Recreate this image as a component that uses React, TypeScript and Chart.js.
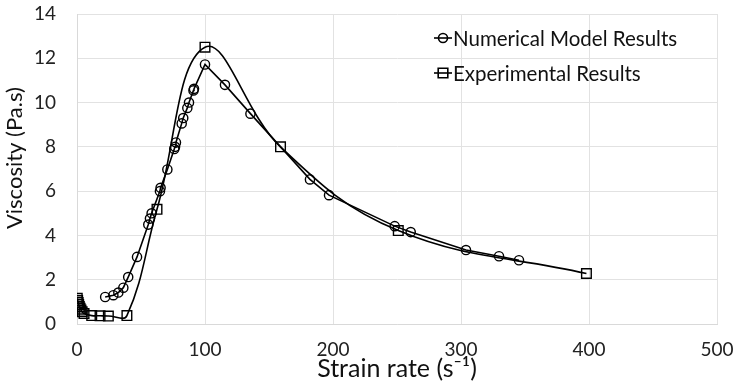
import React, { useEffect, useRef } from "react";
import { Chart, registerables } from "chart.js";

Chart.register(...registerables);

const numX = [22, 28.4, 32.3, 36.2, 40, 46.9, 55.7, 57, 58.3, 64.8, 65.3, 70.6, 76, 76.6, 77.3, 81.8, 83, 86.2, 87.5, 91, 91.4, 100, 115.6, 135.5, 182, 196.9, 248.2, 260.7, 303.9, 329.7, 345.3];
const numY = [1.22, 1.3, 1.42, 1.64, 2.12, 3.03, 4.49, 4.76, 5.0, 6.0, 6.15, 6.98, 7.9, 8.0, 8.2, 9.06, 9.3, 9.76, 10.0, 10.55, 10.62, 11.72, 10.8, 9.5, 6.53, 5.82, 4.42, 4.15, 3.34, 3.06, 2.88];

const expX = [0.2, 0.5, 0.9, 1.3, 1.8, 2.4, 3.1, 4.0, 5.5, 11.5, 18, 24.5, 39, 62.5, 100, 159, 251, 398];
const expY = [1.16, 1.06, 0.97, 0.88, 0.79, 0.71, 0.63, 0.55, 0.47, 0.38, 0.37, 0.36, 0.38, 5.18, 12.5, 8.0, 4.22, 2.28];

const seriesNames = ["Numerical Model Results", "Experimental Results"];
const xTicks = [0, 100, 200, 300, 400, 500];
const yTicks = [0, 2, 4, 6, 8, 10, 12, 14];

const FONT = "Lato, 'Open Sans', sans-serif";

const legendPlugin = {
  id: "customLegend",
  afterDraw(chart: any) {
    const ctx = chart.ctx;
    const x0 = 434;
    const rows = [38, 73];
    ctx.save();
    rows.forEach((y, i) => {
      ctx.strokeStyle = "#000";
      ctx.lineWidth = 1.6;
      ctx.beginPath();
      ctx.moveTo(x0, y);
      ctx.lineTo(x0 + 18, y);
      ctx.stroke();
      const cx = x0 + 9;
      ctx.beginPath();
      if (i === 0) {
        ctx.arc(cx, y, 4.5, 0, Math.PI * 2);
      } else {
        ctx.rect(cx - 4.8, y - 4.8, 9.6, 9.6);
      }
      ctx.stroke();
      ctx.fillStyle = "#111";
      ctx.font = "20.5px " + FONT;
      ctx.textBaseline = "middle";
      ctx.textAlign = "left";
      ctx.fillText(seriesNames[i], x0 + 19, y + 1);
    });
    ctx.restore();
  },
};

export default function App() {
  const ref = useRef<HTMLCanvasElement | null>(null);
  useEffect(() => {
    if (!ref.current) return;
    const chart = new Chart(ref.current, {
      type: "line",
      data: {
        datasets: [
          {
            label: seriesNames[0],
            data: numX.map((x, i) => ({ x, y: numY[i] })),
            borderColor: "#000",
            borderWidth: 1.6,
            backgroundColor: "transparent",
            pointStyle: "circle",
            pointRadius: 4.6,
            pointBorderWidth: 1.4,
            pointBorderColor: "#000",
            pointBackgroundColor: "transparent",
            tension: 0,
          },
          {
            label: seriesNames[1],
            data: expX.map((x, i) => ({ x, y: expY[i] })),
            borderColor: "#000",
            borderWidth: 1.6,
            backgroundColor: "transparent",
            pointStyle: "rect",
            pointRadius: 6.8,
            pointBorderWidth: 1.4,
            pointBorderColor: "#000",
            pointBackgroundColor: "transparent",
            tension: 0.4,
          },
        ],
      },
      options: {
        animation: false,
        responsive: true,
        maintainAspectRatio: false,
        layout: { padding: { top: 14, right: 18, left: 0, bottom: 0 } },
        plugins: { legend: { display: false }, tooltip: { enabled: false } },
        scales: {
          x: {
            type: "linear",
            min: 0,
            max: 500,
            afterBuildTicks: (s: any) => {
              s.ticks = xTicks.map((v) => ({ value: v }));
            },
            afterFit: (s: any) => {
              s.height = 62;
              s.paddingLeft = 0;
              s.paddingRight = 0;
            },
            grid: { color: "#e2e2e2", drawTicks: false, lineWidth: 1 },
            border: { color: "#d9d9d9" },
            ticks: { font: { family: FONT, size: 19 }, color: "#222", padding: 14, maxRotation: 0 },
            title: {
              display: true,
              text: "Strain rate (s\u207B\u00B9)",
              font: { family: FONT, size: 25 },
              color: "#111",
              padding: { top: 0, bottom: 2 },
            },
          },
          y: {
            min: 0,
            max: 14,
            afterBuildTicks: (s: any) => {
              s.ticks = yTicks.map((v) => ({ value: v }));
            },
            afterFit: (s: any) => {
              s.width = 77;
              s.paddingTop = 0;
              s.paddingBottom = 0;
            },
            grid: { color: "#e2e2e2", drawTicks: false, lineWidth: 1 },
            border: { color: "#d9d9d9" },
            ticks: { font: { family: FONT, size: 19 }, color: "#222", padding: 21 },
            title: {
              display: true,
              text: "\u00A0\u00A0\u00A0\u00A0Viscosity (Pa.s)",
              font: { family: FONT, size: 22 },
              color: "#111",
              padding: { top: 2, bottom: 0 },
            },
          },
        },
      },
      plugins: [legendPlugin],
    });
    return () => chart.destroy();
  }, []);
  return (
    <div style={{ position: "absolute", left: 0, top: 0, width: 735, height: 386 }}>
      <canvas ref={ref} />
    </div>
  );
}
